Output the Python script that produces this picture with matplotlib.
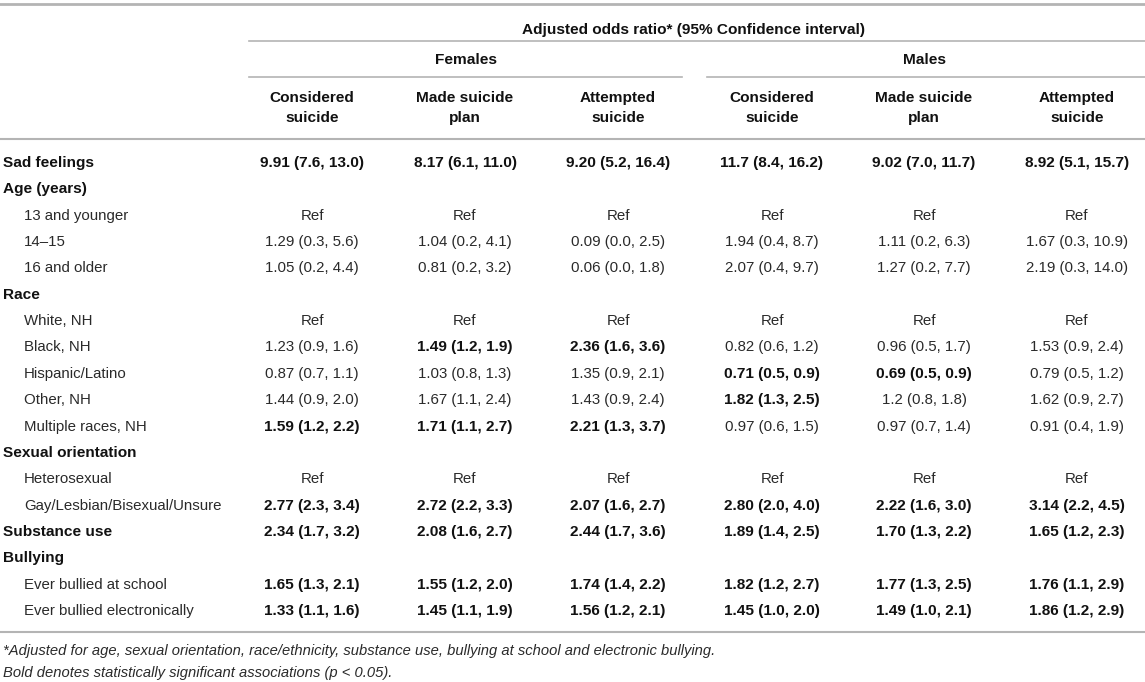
import matplotlib.pyplot as plt

plt.rcParams['font.family'] = ['Liberation Sans', 'DejaVu Sans']

# row labels, indent level (0 = section heading, bold)
row_labels = ['Sad feelings', 'Age (years)', '13 and younger', '14\u201315', '16 and older',
              'Race', 'White, NH', 'Black, NH', 'Hispanic/Latino', 'Other, NH',
              'Multiple races, NH', 'Sexual orientation', 'Heterosexual',
              'Gay/Lesbian/Bisexual/Unsure', 'Substance use', 'Bullying',
              'Ever bullied at school', 'Ever bullied electronically']
row_indent = [0, 0, 1, 1, 1, 0, 1, 1, 1, 1, 1, 0, 1, 1, 0, 0, 1, 1]

groups = ['Females', 'Males']
col_heads = ['Considered\nsuicide', 'Made suicide\nplan', 'Attempted\nsuicide'] * 2

f_considered = ['9.91 (7.6, 13.0)', '', 'Ref', '1.29 (0.3, 5.6)', '1.05 (0.2, 4.4)', '', 'Ref',
                '1.23 (0.9, 1.6)', '0.87 (0.7, 1.1)', '1.44 (0.9, 2.0)', '1.59 (1.2, 2.2)', '', 'Ref',
                '2.77 (2.3, 3.4)', '2.34 (1.7, 3.2)', '', '1.65 (1.3, 2.1)', '1.33 (1.1, 1.6)']
f_plan = ['8.17 (6.1, 11.0)', '', 'Ref', '1.04 (0.2, 4.1)', '0.81 (0.2, 3.2)', '', 'Ref',
          '1.49 (1.2, 1.9)', '1.03 (0.8, 1.3)', '1.67 (1.1, 2.4)', '1.71 (1.1, 2.7)', '', 'Ref',
          '2.72 (2.2, 3.3)', '2.08 (1.6, 2.7)', '', '1.55 (1.2, 2.0)', '1.45 (1.1, 1.9)']
f_attempted = ['9.20 (5.2, 16.4)', '', 'Ref', '0.09 (0.0, 2.5)', '0.06 (0.0, 1.8)', '', 'Ref',
               '2.36 (1.6, 3.6)', '1.35 (0.9, 2.1)', '1.43 (0.9, 2.4)', '2.21 (1.3, 3.7)', '', 'Ref',
               '2.07 (1.6, 2.7)', '2.44 (1.7, 3.6)', '', '1.74 (1.4, 2.2)', '1.56 (1.2, 2.1)']
m_considered = ['11.7 (8.4, 16.2)', '', 'Ref', '1.94 (0.4, 8.7)', '2.07 (0.4, 9.7)', '', 'Ref',
                '0.82 (0.6, 1.2)', '0.71 (0.5, 0.9)', '1.82 (1.3, 2.5)', '0.97 (0.6, 1.5)', '', 'Ref',
                '2.80 (2.0, 4.0)', '1.89 (1.4, 2.5)', '', '1.82 (1.2, 2.7)', '1.45 (1.0, 2.0)']
m_plan = ['9.02 (7.0, 11.7)', '', 'Ref', '1.11 (0.2, 6.3)', '1.27 (0.2, 7.7)', '', 'Ref',
          '0.96 (0.5, 1.7)', '0.69 (0.5, 0.9)', '1.2 (0.8, 1.8)', '0.97 (0.7, 1.4)', '', 'Ref',
          '2.22 (1.6, 3.0)', '1.70 (1.3, 2.2)', '', '1.77 (1.3, 2.5)', '1.49 (1.0, 2.1)']
m_attempted = ['8.92 (5.1, 15.7)', '', 'Ref', '1.67 (0.3, 10.9)', '2.19 (0.3, 14.0)', '', 'Ref',
               '1.53 (0.9, 2.4)', '0.79 (0.5, 1.2)', '1.62 (0.9, 2.7)', '0.91 (0.4, 1.9)', '', 'Ref',
               '3.14 (2.2, 4.5)', '1.65 (1.2, 2.3)', '', '1.76 (1.1, 2.9)', '1.86 (1.2, 2.9)']

# 1 = bold (statistically significant)
f_considered_bold = [1, 0, 0, 0, 0, 0, 0, 0, 0, 0, 1, 0, 0, 1, 1, 0, 1, 1]
f_plan_bold = [1, 0, 0, 0, 0, 0, 0, 1, 0, 0, 1, 0, 0, 1, 1, 0, 1, 1]
f_attempted_bold = [1, 0, 0, 0, 0, 0, 0, 1, 0, 0, 1, 0, 0, 1, 1, 0, 1, 1]
m_considered_bold = [1, 0, 0, 0, 0, 0, 0, 0, 1, 1, 0, 0, 0, 1, 1, 0, 1, 1]
m_plan_bold = [1, 0, 0, 0, 0, 0, 0, 0, 1, 0, 0, 0, 0, 1, 1, 0, 1, 1]
m_attempted_bold = [1, 0, 0, 0, 0, 0, 0, 0, 0, 0, 0, 0, 0, 1, 1, 0, 1, 1]

columns = [f_considered, f_plan, f_attempted, m_considered, m_plan, m_attempted]
bolds = [f_considered_bold, f_plan_bold, f_attempted_bold,
         m_considered_bold, m_plan_bold, m_attempted_bold]

title = 'Adjusted odds ratio* (95% Confidence interval)'
notes = ['*Adjusted for age, sexual orientation, race/ethnicity, substance use, bullying at school and electronic bullying.',
         'Bold denotes statistically significant associations (p < 0.05).']

# layout in pixel units
W, H = 1145, 682
fig = plt.figure(figsize=(W / 100, H / 100), dpi=100)
ax = fig.add_axes([0, 0, 1, 1])
ax.set_xlim(0, W)
ax.set_ylim(H, 0)
ax.axis('off')

line_col = '#b4b4b4'
txt_col = '#2a2a2a'
fs = 10.8
fsb = 11.1
col_x = [312, 465, 618, 772, 924, 1077]
group_x = [466, 925]
group_span = [(249, 682), (707, W)]
row_y0, row_dy = 163, 26.35

ax.plot([0, W], [4, 4], color=line_col, lw=2)
ax.text(694, 30, title, ha='center', va='center', fontsize=fsb, fontweight='bold', color='#111')
ax.plot([249, W], [41, 41], color=line_col, lw=1.2)
for g, gx, (a, b) in zip(groups, group_x, group_span):
    ax.text(gx, 60, g, ha='center', va='center', fontsize=fsb, fontweight='bold', color='#111')
    ax.plot([a, b], [77, 77], color=line_col, lw=1.2)
for h, cx in zip(col_heads, col_x):
    ax.text(cx, 108, h, ha='center', va='center', fontsize=fsb, fontweight='bold',
            color='#111', linespacing=1.6)
ax.plot([0, W], [139, 139], color=line_col, lw=1.5)

for i, (lab, ind) in enumerate(zip(row_labels, row_indent)):
    y = row_y0 + i * row_dy
    if ind == 0:
        ax.text(3, y, lab, ha='left', va='center', fontsize=fsb, fontweight='bold', color='#111')
    else:
        ax.text(24, y, lab, ha='left', va='center', fontsize=fs, color=txt_col)
    for col, bl, cx in zip(columns, bolds, col_x):
        if col[i]:
            ax.text(cx, y, col[i], ha='center', va='center',
                    fontsize=fsb if bl[i] else fs,
                    fontweight='bold' if bl[i] else 'normal',
                    color='#111' if bl[i] else txt_col)

ax.plot([0, W], [632, 632], color=line_col, lw=1.5)
ax.text(3, 651, notes[0], ha='left', va='center', fontsize=10.6, style='italic', color=txt_col)
ax.text(3, 673, notes[1], ha='left', va='center', fontsize=10.6, style='italic', color=txt_col)

fig.savefig('out.png', dpi=100)
